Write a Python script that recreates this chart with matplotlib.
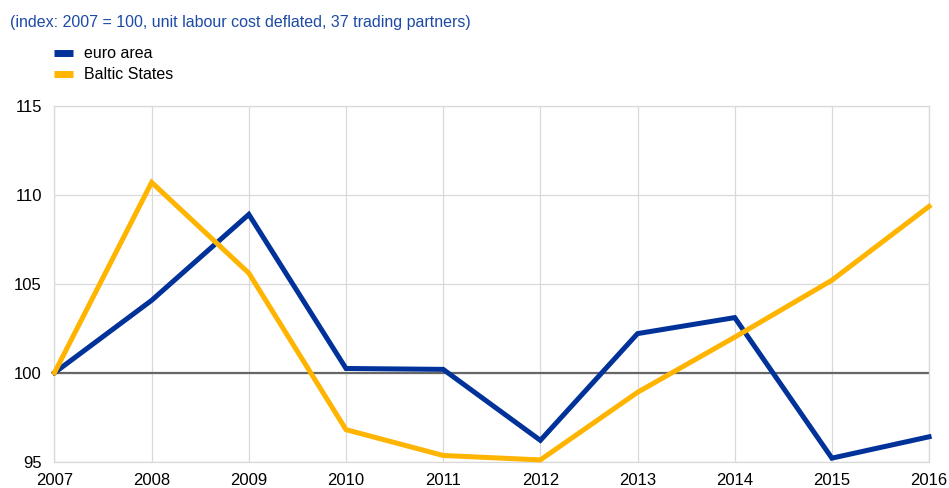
import matplotlib
matplotlib.use("Agg")
import matplotlib.pyplot as plt

years = [2007, 2008, 2009, 2010, 2011, 2012, 2013, 2014, 2015, 2016]
euro_area = [100.0, 104.07, 108.9, 100.24, 100.19, 96.2, 102.2, 103.1, 95.2, 96.4]
baltic_states = [100.0, 110.7, 105.6, 96.8, 95.35, 95.1, 98.9, 102.0, 105.2, 109.35]
y_ticks = [95, 100, 105, 110, 115]
title = "(index: 2007 = 100, unit labour cost deflated, 37 trading partners)"
series_names = ["euro area", "Baltic States"]

plt.rcParams['font.family'] = ['Liberation Sans', 'DejaVu Sans']

fig = plt.figure(figsize=(9.49, 4.88), dpi=100)
ax = fig.add_axes([0.0574, 0.0539, 0.9216, 0.7291])

ax.axhline(100, color='#666666', lw=1.6, zorder=2)
l1, = ax.plot(years, euro_area, color='#003299', lw=3.6, zorder=3, clip_on=False,
              solid_joinstyle='miter', label=series_names[0])
l2, = ax.plot(years, baltic_states, color='#FFB400', lw=3.6, zorder=4, clip_on=False,
              solid_joinstyle='miter', label=series_names[1])

ax.set_xlim(2007, 2016)
ax.set_ylim(95, 115)
ax.set_xticks(years)
ax.set_xticklabels([str(y) for y in years])
ax.set_yticks(y_ticks)
ax.grid(True, color='#d9d9d9', lw=0.9, zorder=0)
for s in ax.spines.values():
    s.set_color('#d9d9d9')
    s.set_linewidth(0.9)
ax.tick_params(length=0, labelsize=12, colors='#000000')
ax.tick_params(axis='x', pad=8)
ax.tick_params(axis='y', pad=9)

fig.text(10/949, 1 - 22/488, title, color='#1c4aa6', fontsize=11.5, va='center', ha='left')

leg = fig.legend(handles=[l1, l2], loc='upper left', bbox_to_anchor=(54/949, 1 - 46/488),
                 frameon=False, fontsize=11.5, handlelength=1.2, handleheight=0.4,
                 handletextpad=0.7, labelspacing=0.38, borderaxespad=0, borderpad=0)
for h in leg.legend_handles:
    h.set_linewidth(5)
    h.set_solid_capstyle('butt')

fig.savefig("out.png", dpi=100)
